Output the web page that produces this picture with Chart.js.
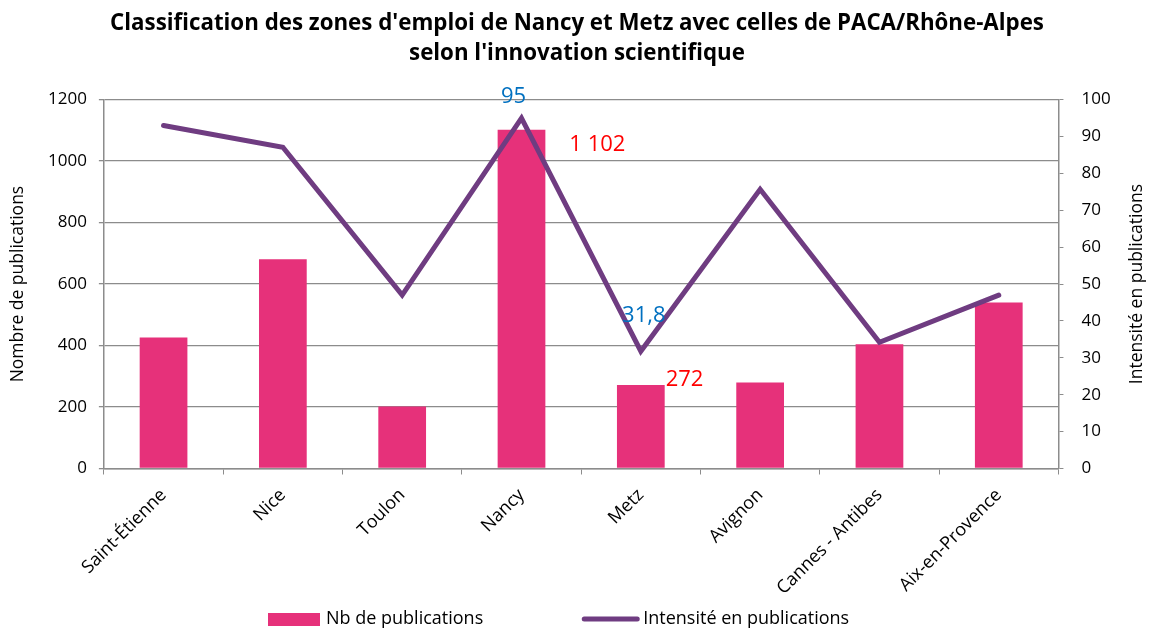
<!DOCTYPE html>
<html>
<head>
<meta charset="utf-8">
<script src="https://cdn.jsdelivr.net/npm/chart.js@4/dist/chart.umd.min.js"></script>
<style>
  body { margin: 0; background: #fff; }
  canvas { display: block; }
</style>
</head>
<body>
<canvas id="myChart" width="1153" height="633"></canvas>
<script>
const zones = ["Saint-Étienne", "Nice", "Toulon", "Nancy", "Metz", "Avignon", "Cannes - Antibes", "Aix-en-Provence"];
const nbPublications = [426, 681, 202, 1102, 272, 280, 404, 540];
const intensite = [93, 87.1, 47, 95, 31.8, 75.7, 34.2, 47];
// only Nancy and Metz get value labels
const labelledZones = ["Nancy", "Metz"];

const FONT = "'Open Sans', sans-serif";
const PINK = "#E6317A";
const PURPLE = "#6F3C81";
const GRID = "#8c8c8c";

function frNumber(v) {
    const parts = String(v).split(".");
    parts[0] = parts[0].replace(/\B(?=(\d{3})+(?!\d))/g, " ");
    return parts.join(",");
}

// value labels, upward right-axis title and the legend row
const extras = {
    id: "extras",
    afterDatasetsDraw(chart) {
        const ctx = chart.ctx;
        const bars = chart.getDatasetMeta(0).data;
        const pts = chart.getDatasetMeta(1).data;
        ctx.save();
        ctx.font = "22px " + FONT;
        ctx.textBaseline = "middle";
        labelledZones.forEach((z) => {
            const i = zones.indexOf(z);
            const bar = bars[i];
            const pt = pts[i];
            const big = i === 3;
            ctx.fillStyle = "#FF0000";
            ctx.textAlign = "left";
            ctx.fillText(frNumber(nbPublications[i]), bar.x + bar.width / 2 + (big ? 24 : 1), bar.y + (big ? 15 : -5));
            ctx.fillStyle = "#0070C0";
            ctx.textAlign = "center";
            ctx.fillText(frNumber(intensite[i]), pt.x + (big ? -8 : 3), pt.y - (big ? 21 : 35));
        });
        ctx.restore();
    },
    afterDraw(chart) {
        const ctx = chart.ctx;
        const a = chart.chartArea;
        ctx.save();
        ctx.translate(1137, (a.top + a.bottom) / 2);
        ctx.rotate(-Math.PI / 2);
        ctx.font = "17.5px " + FONT;
        ctx.fillStyle = "#000";
        ctx.textAlign = "center";
        ctx.textBaseline = "middle";
        ctx.fillText("Intensité en publications", 0, 0);
        ctx.restore();

        // legend
        const ds = chart.data.datasets;
        const y = 619;
        ctx.save();
        ctx.font = "18px " + FONT;
        ctx.textBaseline = "middle";
        ctx.textAlign = "left";
        let x = 268;
        ctx.fillStyle = ds[0].backgroundColor;
        ctx.fillRect(x, y - 6, 52, 13);
        ctx.fillStyle = "#000";
        ctx.fillText(ds[0].label, x + 58, y);
        x = x + 58 + ctx.measureText(ds[0].label).width + 99;
        ctx.strokeStyle = ds[1].borderColor;
        ctx.lineWidth = 5;
        ctx.lineCap = "round";
        ctx.beginPath();
        ctx.moveTo(x + 2, y);
        ctx.lineTo(x + 55, y);
        ctx.stroke();
        ctx.fillText(ds[1].label, x + 61, y);
        ctx.restore();
    },
};

const tickFont = { family: FONT, size: 17 };

new Chart(document.getElementById("myChart").getContext("2d"), {
    type: "bar",
    data: {
        labels: zones,
        datasets: [
            {
                type: "bar",
                label: "Nb de publications",
                data: nbPublications,
                backgroundColor: PINK,
                yAxisID: "y",
                order: 2,
                barPercentage: 0.4,
                categoryPercentage: 1,
            },
            {
                type: "line",
                label: "Intensité en publications",
                data: intensite,
                borderColor: PURPLE,
                backgroundColor: PURPLE,
                borderWidth: 5,
                pointRadius: 0,
                tension: 0,
                borderCapStyle: "round",
                yAxisID: "y1",
                order: 1,
            },
        ],
    },
    options: {
        responsive: false,
        animation: false,
        layout: { padding: { left: 2, right: 1, bottom: 24 } },
        plugins: {
            title: {
                display: true,
                text: [
                    "Classification des zones d'emploi de Nancy et Metz avec celles de PACA/Rhône-Alpes",
                    "selon l'innovation scientifique",
                ],
                color: "#000",
                font: { family: FONT, size: 22.3, weight: "bold", lineHeight: 1.36 },
                padding: { top: 8, bottom: 31 },
            },
            legend: { display: false },
            tooltip: { enabled: false },
        },
        scales: {
            x: {
                offset: true,
                grid: {
                    offset: true,
                    drawOnChartArea: false,
                    tickLength: 6,
                    color: GRID,
                },
                border: { color: GRID, width: 1.5 },
                ticks: {
                    color: "#000",
                    font: { family: FONT, size: 18 },
                    minRotation: 45,
                    maxRotation: 45,
                    padding: 10,
                },
            },
            y: {
                position: "left",
                min: 0,
                max: 1200,
                ticks: {
                    stepSize: 200,
                    color: "#000",
                    font: tickFont,
                    padding: 12,
                    callback: (v) => String(v),
                },
                grid: { color: GRID, lineWidth: 1.3, tickLength: 5 },
                border: { color: GRID, width: 1.5 },
                title: {
                    display: true,
                    text: "Nombre de publications",
                    color: "#000",
                    font: { family: FONT, size: 17.5 },
                    padding: { top: 6, bottom: 7 },
                },
            },
            y1: {
                position: "right",
                min: 0,
                max: 100,
                ticks: {
                    stepSize: 10,
                    color: "#000",
                    font: tickFont,
                    padding: 18,
                    callback: (v) => String(v),
                },
                grid: { drawOnChartArea: false, color: GRID, tickLength: 5 },
                border: { color: GRID, width: 1.5 },
                title: {
                    display: true,
                    text: "Intensité en publications",
                    color: "rgba(0,0,0,0)",
                    font: tickFont,
                    padding: { top: 0, bottom: 3 },
                },
            },
        },
    },
    plugins: [extras],
});
</script>
</body>
</html>
